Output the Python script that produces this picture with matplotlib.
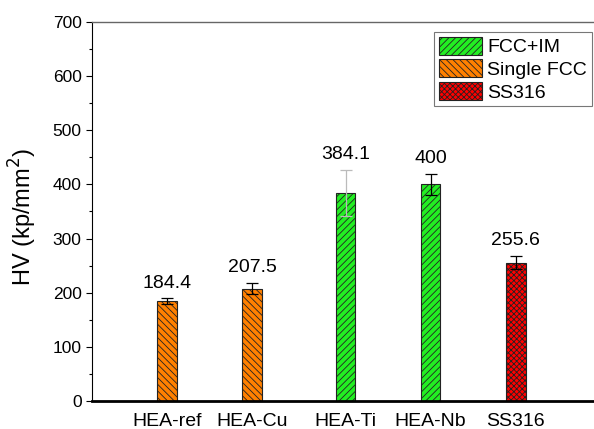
import matplotlib
matplotlib.use("Agg")
import matplotlib.pyplot as plt
from matplotlib.ticker import MultipleLocator
from matplotlib.patches import Patch

categories = ["HEA-ref", "HEA-Cu", "HEA-Ti", "HEA-Nb", "SS316"]
values = [184.4, 207.5, 384.1, 400, 255.6]
errors = [5, 10, 42, 20, 12]
labels = ["184.4", "207.5", "384.1", "400", "255.6"]
groups = ["Single FCC", "Single FCC", "FCC+IM", "FCC+IM", "SS316"]
positions = [0, 1, 2.1, 3.1, 4.1]

styles = {
    "FCC+IM": dict(color="#22EE22", hatch="/////"),
    "Single FCC": dict(color="#FF8000", hatch="\\\\\\\\\\"),
    "SS316": dict(color="#FF0000", hatch="xxxxxx"),
}
err_colors = ["black", "black", "#BBBBBB", "black", "black"]

plt.rcParams["font.family"] = ["Liberation Sans", "DejaVu Sans"]
plt.rcParams["hatch.linewidth"] = 0.6

fig = plt.figure(figsize=(5.94, 4.29), dpi=100)
ax = fig.add_axes([0.1549, 0.0653, 0.8451, 0.8834])

for x, v, e, g, ec, lab in zip(positions, values, errors, groups, err_colors, labels):
    st = styles[g]
    ax.bar(x, v, width=0.23, color=st["color"], hatch=st["hatch"],
           edgecolor="#222222", linewidth=0.8, zorder=2)
    ax.errorbar(x, v, yerr=e, fmt="none", ecolor=ec, elinewidth=0.9,
                capsize=4, capthick=0.9, zorder=3)
    ax.annotate(lab, (x, v + e), xytext=(0, 5), textcoords="offset points",
                ha="center", va="bottom", fontsize=14)

ax.set_xlim(-0.88, 5.02)
ax.set_ylim(0, 700)
ax.set_xticks(positions)
ax.set_xticklabels(categories, fontsize=14)
ax.tick_params(axis="x", length=0, pad=9)
ax.yaxis.set_major_locator(MultipleLocator(100))
ax.yaxis.set_minor_locator(MultipleLocator(50))
ax.tick_params(axis="y", which="major", direction="out", length=4, labelsize=12.5, width=0.8)
ax.tick_params(axis="y", which="minor", direction="out", length=2.5, width=0.8)
ax.set_ylabel("HV (kp/mm$^2$)", fontsize=17)
ax.yaxis.set_label_coords(-0.105, 0.485)

ax.spines["bottom"].set_linewidth(2.0)
ax.spines["left"].set_linewidth(0.8)
ax.spines["top"].set_color("#666666")
ax.spines["top"].set_linewidth(1.0)
ax.spines["right"].set_visible(False)

handles = [Patch(facecolor=styles[k]["color"], hatch=styles[k]["hatch"],
                 edgecolor="#222222", linewidth=0.8, label=k)
           for k in ["FCC+IM", "Single FCC", "SS316"]]
leg = ax.legend(handles=handles, loc="upper right", bbox_to_anchor=(0.996, 0.974),
                fontsize=14, frameon=True, fancybox=False, edgecolor="#555555",
                handlelength=2.2, handleheight=1.05, handletextpad=0.3,
                labelspacing=0.15, borderpad=0.25, borderaxespad=0.0)
leg.get_frame().set_linewidth(0.8)

fig.savefig("out.png", dpi=100)
